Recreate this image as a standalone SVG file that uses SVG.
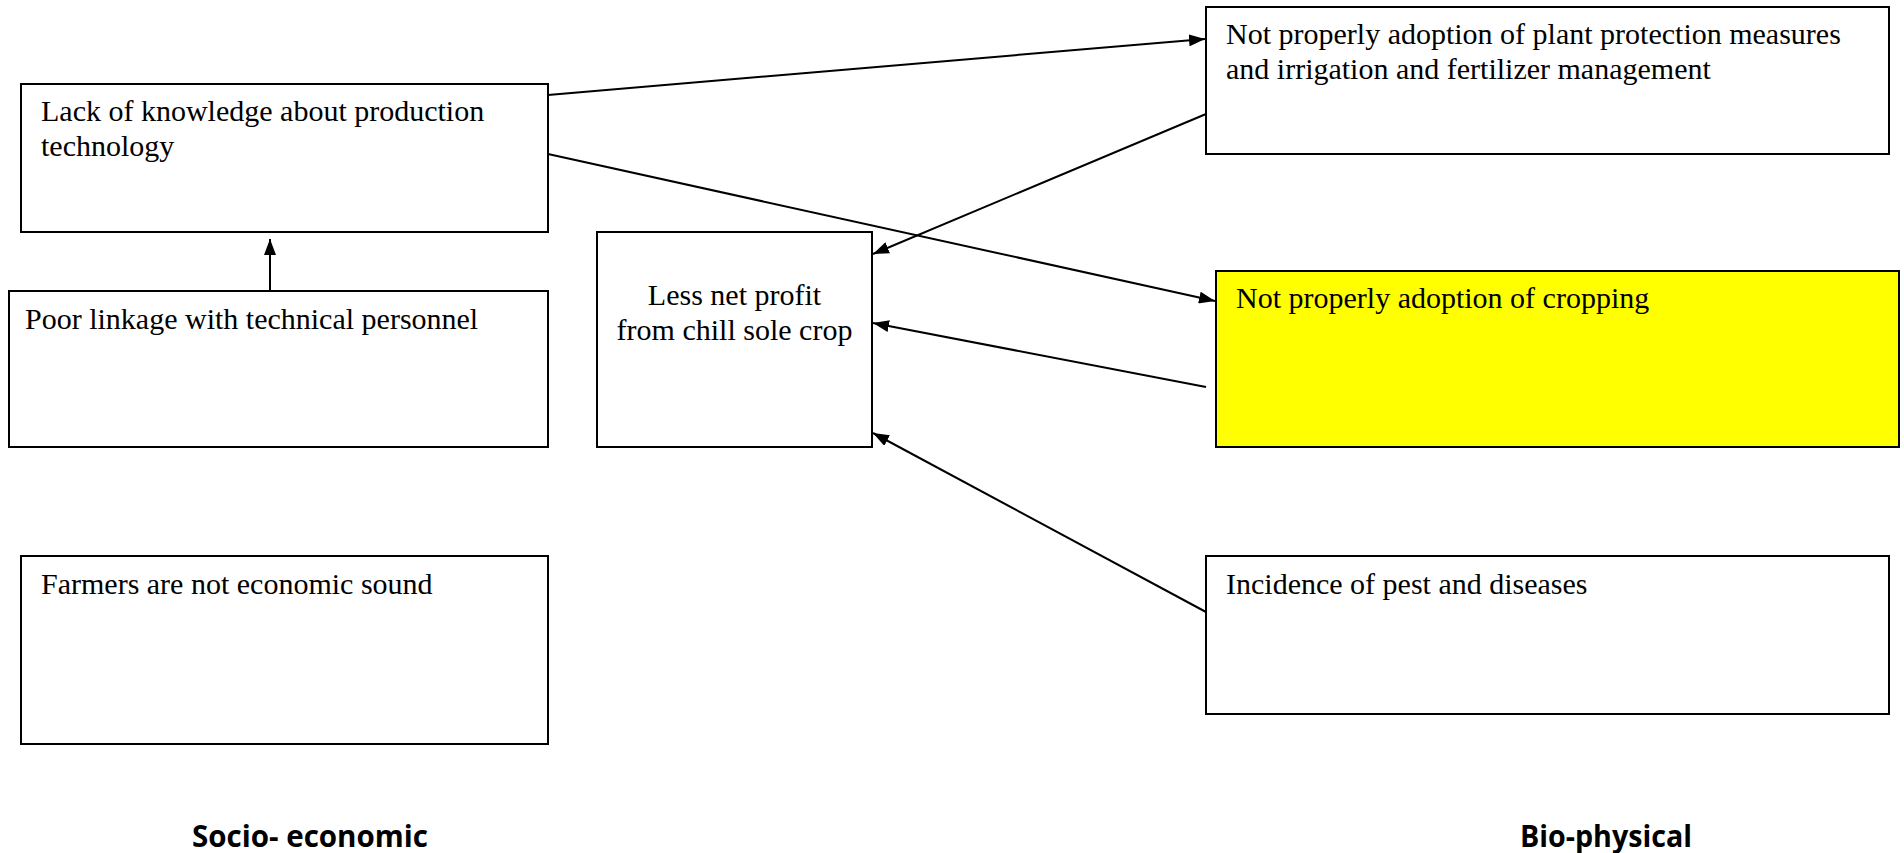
<svg xmlns="http://www.w3.org/2000/svg" width="1904" height="853" viewBox="0 0 1904 853">
<style>
.box{fill:#fff;stroke:#000;stroke-width:2}
.yel{fill:#ffff00;stroke:#000;stroke-width:2}
.t{font-family:"Liberation Serif","Times New Roman",serif;font-size:30px;fill:#000}
.c{stroke:#000;stroke-width:2;fill:none;marker-end:url(#ah)}
.lbl{font-family:"Open Sans","Liberation Sans",sans-serif;font-weight:bold;font-size:30px;fill:#000}
</style>
<defs>
<marker id="ah" viewBox="0 0 16 12" refX="16" refY="6" markerWidth="16" markerHeight="12" markerUnits="userSpaceOnUse" orient="auto">
<path d="M0,0 L16,6 L0,12 z" fill="#000"/>
</marker>
</defs>
<rect width="1904" height="853" fill="#fff"/>
<g id="n-lack">
<rect class="box" x="21" y="84" width="527" height="148"/>
<text class="t" x="41" y="121">Lack of knowledge about production</text>
<text class="t" x="41" y="156">technology</text>
</g>
<g id="n-poor">
<rect class="box" x="9" y="291" width="539" height="156"/>
<text class="t" x="25" y="329">Poor linkage with technical personnel</text>
</g>
<g id="n-farmers">
<rect class="box" x="21" y="556" width="527" height="188"/>
<text class="t" x="41" y="594">Farmers are not economic sound</text>
</g>
<g id="n-profit">
<rect class="box" x="597" y="232" width="275" height="215"/>
<text class="t" x="734.5" y="305" text-anchor="middle">Less net profit</text>
<text class="t" x="734.5" y="340" text-anchor="middle">from chill sole crop</text>
</g>
<g id="n-plant">
<rect class="box" x="1206" y="7" width="683" height="147"/>
<text class="t" x="1226" y="44">Not properly adoption of plant protection measures</text>
<text class="t" x="1226" y="79">and irrigation and fertilizer management</text>
</g>
<g id="n-cropping">
<rect class="yel" x="1216" y="271" width="683" height="176"/>
<text class="t" x="1236" y="308">Not properly adoption of cropping</text>
</g>
<g id="n-pest">
<rect class="box" x="1206" y="556" width="683" height="158"/>
<text class="t" x="1226" y="594">Incidence of pest and diseases</text>
</g>
<g id="labels">
<text class="lbl" x="192" y="847" textLength="236" lengthAdjust="spacingAndGlyphs">Socio- economic</text>
<text class="lbl" x="1520" y="847" textLength="172" lengthAdjust="spacingAndGlyphs">Bio-physical</text>
</g>
<g id="connectors">
<line class="c" x1="548" y1="95" x2="1205" y2="39"/>
<line class="c" x1="548" y1="154" x2="1215" y2="301"/>
<line class="c" x1="1206" y1="114" x2="873" y2="254"/>
<line class="c" x1="1206" y1="387" x2="873" y2="323"/>
<line class="c" x1="1206" y1="612" x2="873" y2="433"/>
<line class="c" x1="270" y1="291" x2="270" y2="239"/>
</g>
</svg>
